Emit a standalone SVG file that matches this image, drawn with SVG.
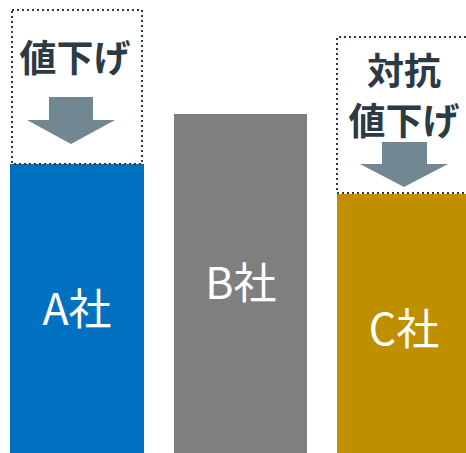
<svg xmlns="http://www.w3.org/2000/svg" width="466" height="453" viewBox="0 0 466 453">
<style>
.bar-label{font-family:"Noto Sans CJK JP","Noto Sans",sans-serif;font-size:43px;fill:#ffffff;text-anchor:middle}
.title{font-family:"Noto Sans CJK JP","Noto Sans",sans-serif;font-size:37px;font-weight:bold;fill:#2c3a44;text-anchor:middle}
.dot{fill:none;stroke:#2c3a44;stroke-width:2;stroke-dasharray:2 3}
.arrow{fill:#718791}
</style>
<rect width="466" height="453" fill="#ffffff"/>
<g id="barA">
<rect x="10" y="164" width="134" height="289" fill="#0070C0"/>
<text class="bar-label" x="77" y="325">A社</text>
</g>
<g id="barB">
<rect x="174" y="114" width="133" height="339" fill="#7F7F7F"/>
<text class="bar-label" x="241" y="299">B社</text>
</g>
<g id="barC">
<rect x="337" y="194" width="129" height="259" fill="#BF8F00"/>
<text class="bar-label" x="404" y="345">C社</text>
</g>
<g id="noteA">
<rect class="dot" x="12" y="10" width="130" height="154"/>
<text class="title" x="75" y="72">値下げ</text>
<path class="arrow" d="M49 97 H93 V120 H115 L71 144 L27 120 H49 Z"/>
</g>
<g id="noteC">
<path class="dot" d="M466 37 H337 V193 H466"/>
<text class="title" x="404" y="85">対抗</text>
<text class="title" x="404" y="135">値下げ</text>
<path class="arrow" d="M382 142 H427 V164 H448 L404 187 L360 164 H382 Z"/>
</g>
<g id="connectors"></g>
</svg>
